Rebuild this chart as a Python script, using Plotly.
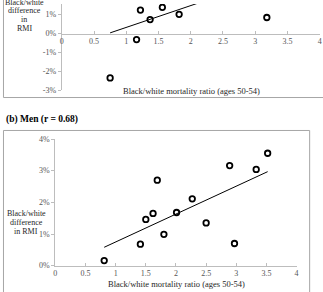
import numpy as np
import plotly.graph_objects as go

W, H = 323, 292

# ---- data ----
women_x = [1.22, 1.37, 1.56, 1.82, 3.18, 1.16, 0.75]
women_y = [1.24, 0.74, 1.39, 1.02, 0.85, -0.32, -2.35]
women_fit_slope = 1.155
women_fit_intercept = -0.83

men_x = [3.52, 2.89, 3.33, 1.69, 2.27, 2.01, 1.62, 1.50, 2.50, 1.80, 1.41, 2.97, 0.81]
men_y = [3.55, 3.16, 3.04, 2.70, 2.11, 1.68, 1.65, 1.46, 1.35, 0.99, 0.68, 0.70, 0.16]

x_ticks = [0, 0.5, 1, 1.5, 2, 2.5, 3, 3.5, 4]
x_ticktext = ["0", "0.5", "1", "1.5", "2", "2.5", "3", "3.5", "4"]
women_yticks = [-3, -2, -1, 0, 1]
women_yticktext = ["-3%", "-2%", "-1%", "0%", "1%"]
men_yticks = [0, 1, 2, 3, 4]
men_yticktext = ["0%", "1%", "2%", "3%", "4%"]

x_title = "Black/white mortality ratio (ages 50-54)"
panel_b_title = "(b) Men (r = 0.68)"

# ---- helpers for pixel -> paper ----
def PX(x):
    return x / W

def PY(y):
    return 1 - y / H

SERIF = "Liberation Serif, Times New Roman, serif"
AXIS_COL = "#bdbdbd"
TICK_FONT = dict(family=SERIF, size=8, color="#555555")
TXT_FONT = dict(family=SERIF, size=8.5, color="#262626")
YT_FONT = dict(family=SERIF, size=8, color="#262626")

marker = dict(symbol="circle-open", size=5.5, color="black", line=dict(width=1.8, color="black"))

fig = go.Figure()

# top panel (women)
fig.add_trace(go.Scatter(x=women_x, y=women_y, mode="markers", marker=marker,
                         xaxis="x", yaxis="y", showlegend=False))
wx = np.array([min(women_x), max(women_x)])
fig.add_trace(go.Scatter(x=wx, y=women_fit_slope * wx + women_fit_intercept, mode="lines",
                         line=dict(color="black", width=1), xaxis="x", yaxis="y",
                         showlegend=False))

# bottom panel (men)
fig.add_trace(go.Scatter(x=men_x, y=men_y, mode="markers", marker=marker,
                         xaxis="x2", yaxis="y2", showlegend=False))
m, b = np.polyfit(men_x, men_y, 1)
mx = np.array([min(men_x), max(men_x)])
fig.add_trace(go.Scatter(x=mx, y=m * mx + b, mode="lines",
                         line=dict(color="black", width=1), xaxis="x2", yaxis="y2",
                         showlegend=False))

common_x = dict(range=[0, 4], tickvals=x_ticks, ticktext=x_ticktext, showgrid=False,
                zeroline=False, showline=True, linecolor=AXIS_COL, linewidth=1,
                ticks="inside", ticklen=3, tickcolor=AXIS_COL, tickfont=TICK_FONT)
common_y = dict(showgrid=False, zeroline=False, showline=True, linecolor=AXIS_COL,
                linewidth=1, ticks="outside", ticklen=3, tickcolor=AXIS_COL,
                tickfont=TICK_FONT)

fig.update_layout(
    width=W, height=H, margin=dict(l=0, r=0, t=0, b=0),
    paper_bgcolor="white", plot_bgcolor="white",
    xaxis=dict(domain=[PX(60.5), PX(321.7)], anchor="free", position=PY(30.6), **common_x),
    yaxis=dict(domain=[PY(89), 1], range=[-3, 1.564], tickvals=women_yticks,
               ticktext=women_yticktext, anchor="x", **common_y),
    xaxis2=dict(domain=[PX(54), PX(298.3)], anchor="y2", **common_x),
    yaxis2=dict(domain=[PY(270), PY(139.3)], range=[0, 4], tickvals=men_yticks,
                ticktext=men_yticktext, anchor="x2", **common_y),
)

FRAME = "#a6a6a6"
fig.add_shape(type="rect", xref="paper", yref="paper", x0=PX(1.5), x1=1.1,
              y0=PY(96.5), y1=1.1, line=dict(color=FRAME, width=1), fillcolor="rgba(0,0,0,0)")
fig.add_shape(type="rect", xref="paper", yref="paper", x0=PX(1.5), x1=PX(311.5),
              y0=-0.1, y1=PY(130.5), line=dict(color=FRAME, width=1), fillcolor="rgba(0,0,0,0)")

def note(text, x, y, font=TXT_FONT, xanchor="center"):
    fig.add_annotation(text=text, xref="paper", yref="paper", x=PX(x), y=PY(y),
                       xanchor=xanchor, yanchor="middle", showarrow=False, font=font)

# top panel titles
note(x_title, 192, 90)
for txt, yy in [("Black/white", -2), ("difference", 7), ("in", 16), ("RMI", 25)]:
    note(txt, 22.5, yy, font=YT_FONT)

# bottom panel titles
note("<b>" + panel_b_title + "</b>", 2, 119,
     font=dict(family=SERIF, size=9.5, color="black"), xanchor="left")
note(x_title, 177, 289)
for txt, yy in [("Black/white", 216), ("difference", 225.5), ("in RMI", 234.7)]:
    note(txt, 24.5, yy, font=YT_FONT)

fig.write_html("out.html")
